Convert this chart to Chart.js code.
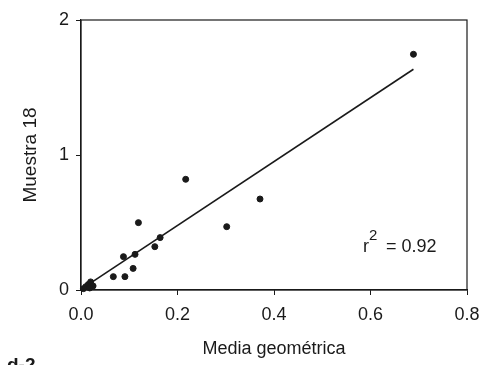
<!DOCTYPE html>
<html>
<head>
<meta charset="utf-8">
<script src="https://cdn.jsdelivr.net/npm/chart.js@4/dist/chart.umd.min.js"></script>
<style>
  html, body { margin: 0; padding: 0; background: #fff; }
  #chart { display: block; }
</style>
</head>
<body>
<canvas id="chart" width="483" height="365"></canvas>
<script>
// Scatter points: Media geométrica (x) vs Muestra 18 (y)
const mediaGeometrica = [0.005, 0.010, 0.015, 0.020, 0.025, 0.018, 0.067, 0.088, 0.091, 0.108, 0.112, 0.119, 0.153, 0.164, 0.217, 0.302, 0.371, 0.689];
const muestra18 = [0.010, 0.025, 0.040, 0.060, 0.030, 0.015, 0.099, 0.247, 0.099, 0.160, 0.264, 0.499, 0.321, 0.388, 0.820, 0.469, 0.674, 1.746];

// regression line end points
const fitX = [0.0, 0.689];
const fitY = [0.005, 1.635];

const xTicks = [0.0, 0.2, 0.4, 0.6, 0.8];
const yTicks = [0, 1, 2];

const rSquared = '0.92';
const panelLabel = 'd-2';

const ink = '#1a1a1a';
const fontFamily = '"Liberation Sans", Arial, Helvetica, sans-serif';

// frame + annotations
const extrasPlugin = {
    id: 'extras',
    afterDraw(chart) {
        const { ctx, chartArea } = chart;
        ctx.save();
        ctx.strokeStyle = ink;
        ctx.lineWidth = 1.2;
        ctx.strokeRect(chartArea.left, chartArea.top, chartArea.right - chartArea.left, chartArea.bottom - chartArea.top);

        ctx.fillStyle = ink;
        ctx.textBaseline = 'alphabetic';
        ctx.font = '18px ' + fontFamily;
        ctx.fillText('r', 363, 252);
        ctx.font = '15px ' + fontFamily;
        ctx.fillText('2', 369, 240);
        ctx.font = '18px ' + fontFamily;
        ctx.fillText('= ' + rSquared, 386, 252);

        ctx.font = 'bold 19px ' + fontFamily;
        ctx.fillText(panelLabel, 7, 371);
        ctx.restore();
    }
};

const ctx = document.getElementById('chart').getContext('2d');
new Chart(ctx, {
    type: 'scatter',
    data: {
        datasets: [
            {
                data: mediaGeometrica.map((x, i) => ({ x, y: muestra18[i] })),
                backgroundColor: ink,
                borderColor: ink,
                pointRadius: 3,
                pointHoverRadius: 3,
                clip: false
            },
            {
                type: 'line',
                data: fitX.map((x, i) => ({ x, y: fitY[i] })),
                borderColor: ink,
                borderWidth: 1.6,
                pointRadius: 0,
                fill: false,
                clip: false
            }
        ]
    },
    options: {
        responsive: false,
        animation: false,
        layout: { padding: { left: 0, right: 16, top: 20, bottom: 0 } },
        plugins: {
            legend: { display: false },
            tooltip: { enabled: false }
        },
        scales: {
            x: {
                type: 'linear',
                min: 0,
                max: 0.8,
                afterBuildTicks: (scale) => { scale.ticks = xTicks.map(v => ({ value: v })); },
                afterFit: (scale) => {
                    scale.height = 75;
                    scale.paddingLeft = 0;
                    scale.paddingRight = 0;
                },
                border: { display: true, color: ink, width: 1.2 },
                grid: { drawOnChartArea: false, drawTicks: true, tickLength: 5, color: ink },
                ticks: {
                    color: ink,
                    padding: 9,
                    font: { family: fontFamily, size: 18 },
                    callback: (v) => Number(v).toFixed(1)
                },
                title: {
                    display: true,
                    text: 'Media geométrica',
                    color: ink,
                    font: { family: fontFamily, size: 18 },
                    padding: { top: 0, bottom: 5 }
                }
            },
            y: {
                type: 'linear',
                min: 0,
                max: 2,
                afterBuildTicks: (scale) => { scale.ticks = yTicks.map(v => ({ value: v })); },
                afterFit: (scale) => {
                    scale.width = 81;
                    scale.paddingTop = 0;
                    scale.paddingBottom = 0;
                },
                border: { display: true, color: ink, width: 1.2 },
                grid: { drawOnChartArea: false, drawTicks: true, tickLength: 5, color: ink },
                ticks: {
                    color: ink,
                    padding: 7,
                    font: { family: fontFamily, size: 18 },
                    callback: (v) => String(v)
                },
                title: {
                    display: true,
                    text: 'Muestra 18',
                    color: ink,
                    font: { family: fontFamily, size: 19 },
                    padding: { top: 19, bottom: 0 }
                }
            }
        }
    },
    plugins: [extrasPlugin]
});
</script>
</body>
</html>
